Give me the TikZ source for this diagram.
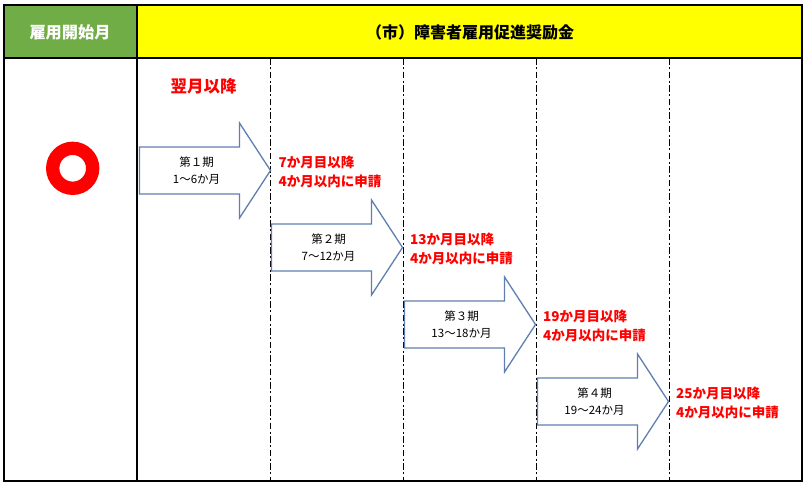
\documentclass[tikz,border=0pt]{standalone}
\usepackage{fontspec}
\usetikzlibrary{calc}
\setmainfont{Noto Sans CJK JP}
\newfontfamily\jp{Noto Sans CJK JP}
\definecolor{hdrgreen}{RGB}{112,173,71}
\definecolor{hdryellow}{RGB}{255,255,0}
\definecolor{arrowblue}{RGB}{96,126,176}
\definecolor{redtxt}{RGB}{255,0,0}
\tikzset{
  frameline/.style={draw=black, line width=1.4pt},
  divline/.style={draw=black, line width=1pt, dash pattern={on 6.5pt off 2.5pt on 2pt off 2.5pt}},
  arrowshape/.style={draw=arrowblue, fill=white, line width=1.3pt, line join=miter},
  arrowtext/.style={font=\jp\fontsize{11.5}{13}\selectfont, text=black, inner sep=0pt},
  notetext/.style={font=\jp\bfseries\fontsize{13.5}{15}\selectfont, text=redtxt, inner sep=0pt, anchor=west},
  hdrtext/.style={font=\jp\bfseries\fontsize{16}{18}\selectfont, inner sep=0pt},
}
\newcommand\prdarrow[1]{%
  \path[arrowshape] (#1) ++(0,-23.5) -- ++(100,0) -- ++(0,-24) -- ++(31,47.5)
    -- ++(-31,47.5) -- ++(0,-24) -- ++(-100,0) -- cycle;}
\begin{document}
\begin{tikzpicture}[x=1pt,y=-1pt]
\useasboundingbox (0,0) rectangle (807,488);
% header cells
\fill[hdrgreen] (4,5) rectangle (137,58);
\fill[hdryellow] (137,5) rectangle (802,58);
\node[hdrtext, text=white, font=\jp\bfseries\fontsize{16.2}{18}\selectfont] (hl) at (70,32.5) {雇用開始月};
\node[hdrtext, text=black] (hr) at (470,32) {（市）障害者雇用促進奨励金};
% dashed column lines
\foreach \x in {270,403,536,669}{
  \draw[divline] (\x,58) -- (\x,481);
}
% frame
\draw[frameline] (4,5) rectangle (802,481);
\draw[frameline] (4,58) -- (802,58);
\draw[frameline] (137,5) -- (137,481);
% ring
\draw[redtxt, line width=13.3pt] (72.7,168.3) circle (20);
% first-month note
\node[font=\jp\bfseries\fontsize{16.5}{18}\selectfont, text=redtxt, inner sep=0pt] (nm) at (203.5,86) {翌月以降};
% arrows
\coordinate (a1) at (139.5,170.5);
\coordinate (a2) at (271.5,247.5);
\coordinate (a3) at (404.5,324.5);
\coordinate (a4) at (537.5,401.5);
\prdarrow{a1}
\prdarrow{a2}
\prdarrow{a3}
\prdarrow{a4}
% arrow texts
\node[arrowtext] (t1a) at ($(a1)+(57,-8)$) {第１期};
\node[arrowtext] (t1b) at ($(a1)+(57,8.5)$) {1～6か月};
\node[arrowtext] (t2a) at ($(a2)+(57,-8)$) {第２期};
\node[arrowtext] (t2b) at ($(a2)+(57,8.5)$) {7～12か月};
\node[arrowtext] (t3a) at ($(a3)+(57,-8)$) {第３期};
\node[arrowtext] (t3b) at ($(a3)+(57,8.5)$) {13～18か月};
\node[arrowtext] (t4a) at ($(a4)+(57,-8)$) {第４期};
\node[arrowtext] (t4b) at ($(a4)+(57,8.5)$) {19～24か月};
% red notes
\node[notetext] (n1a) at (278.5,162) {7か月目以降};
\node[notetext] (n1b) at (278.5,181.5) {4か月以内に申請};
\node[notetext] (n2a) at (410,239) {13か月目以降};
\node[notetext] (n2b) at (410,258) {4か月以内に申請};
\node[notetext] (n3a) at (543,316) {19か月目以降};
\node[notetext] (n3b) at (543,335) {4か月以内に申請};
\node[notetext] (n4a) at (676,393) {25か月目以降};
\node[notetext] (n4b) at (676,412) {4か月以内に申請};
\end{tikzpicture}
\end{document}
